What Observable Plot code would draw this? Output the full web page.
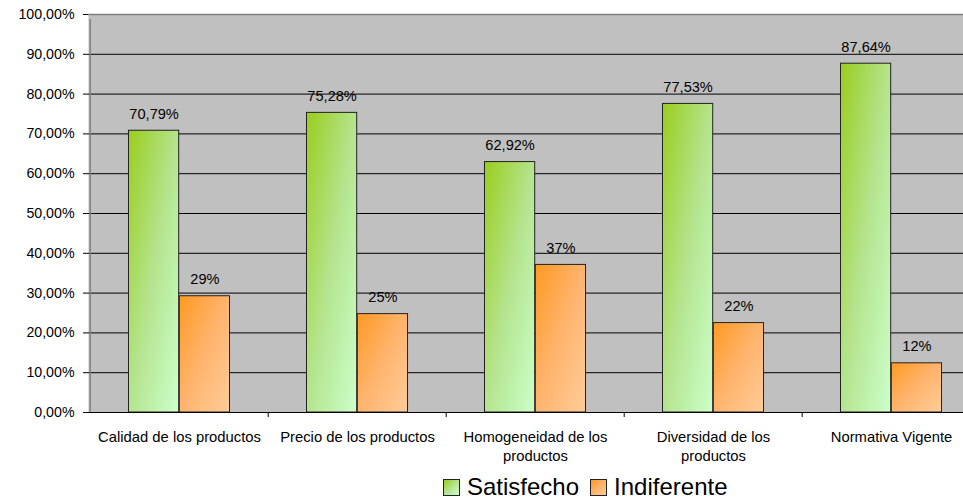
<!DOCTYPE html>
<html>
<head>
<meta charset="utf-8">
<script src="https://cdn.jsdelivr.net/npm/d3@7"></script>
<script src="https://cdn.jsdelivr.net/npm/@observablehq/plot@0.6"></script>
<style>
  html, body { margin: 0; padding: 0; overflow: hidden; background: #fff; }
  body { width: 963px; height: 499px; position: relative; font-family: "Liberation Sans", Arial, sans-serif; }
  #chart { position: absolute; left: 0; top: 0; width: 981px; }
  #chart svg { max-width: none !important; overflow: visible; }
  #legend { position: absolute; left: 443px; top: 475px; display: flex; align-items: center; font-size: 24px; line-height: 24px; color: #000; white-space: nowrap; }
  .sw { width: 17px; height: 17px; box-sizing: border-box; border: 1px solid #222; margin-right: 7px; }
  .lab { margin-right: 11px; }
</style>
</head>
<body>
<div id="chart"></div>
<div id="legend"></div>
<script>
const categories = ["Calidad de los productos", "Precio de los productos", "Homogeneidad de los productos", "Diversidad de los productos", "Normativa Vigente"];
const categoryLabels = ["Calidad de los productos", "Precio de los productos", "Homogeneidad de los\nproductos", "Diversidad de los\nproductos", "Normativa Vigente"];
const series = ["Satisfecho", "Indiferente"];
const satisfecho = [70.79, 75.28, 62.92, 77.53, 87.64];
const indiferente = [29.21, 24.72, 37.08, 22.47, 12.36];
const yTicks = [0, 10, 20, 30, 40, 50, 60, 70, 80, 90, 100];

const dataS = categories.map((c, i) => ({cat: c, v: satisfecho[i]}));
const dataI = categories.map((c, i) => ({cat: c, v: indiferente[i]}));

const width = 981, marginLeft = 88, marginRight = 0;
const step = (width - marginLeft - marginRight) / categories.length;
const outer = step * 0.2155;
const bw = (step - 2 * outer) / 2;

const fmtY = d => d.toFixed(2).replace(".", ",") + "%";
const fmtS = d => d.toFixed(2).replace(".", ",") + "%";
const fmtI = d => Math.round(d) + "%";

const chart = Plot.plot({
  width, height: 470,
  marginLeft, marginRight, marginTop: 14, marginBottom: 58,
  style: {fontFamily: "'Liberation Sans', Arial, sans-serif", fontSize: "14.5px", color: "#000", background: "transparent", maxWidth: "none", overflow: "visible"},
  x: {domain: categories, padding: 0, axis: null, label: null},
  y: {domain: [0, 100], axis: null, label: null},
  marks: [
    Plot.frame({fill: "#c0c0c0", stroke: "none"}),
    Plot.ruleY(yTicks.filter(d => d > 0 && d < 100), {stroke: "#000", strokeWidth: 1}),
    Plot.ruleY([100], {stroke: "#808080", strokeWidth: 1.5}),
    Plot.barY(dataS, {x: "cat", y: "v", fill: "url(#gGreen)", stroke: "#222", strokeWidth: 1, insetLeft: outer, insetRight: outer + bw}),
    Plot.barY(dataI, {x: "cat", y: "v", fill: "url(#gOrange)", stroke: "#222", strokeWidth: 1, insetLeft: outer + bw, insetRight: outer}),
    Plot.ruleY([0], {stroke: "#000", strokeWidth: 1.2}),
    Plot.ruleX(categories.slice(1), {x: d => d, y1: 0, y2: 0, dx: -step / 2, insetBottom: -5, stroke: "#000"}),
    Plot.ruleX([categories[0]], {x: d => d, y1: 0, y2: 100, dx: -step / 2, insetBottom: -5, stroke: "#808080", strokeWidth: 1.5}),
    Plot.axisY({ticks: yTicks, tickFormat: fmtY, tickSize: 5, tickPadding: 9, fontSize: 14.2, stroke: "#000", label: null}),
    Plot.axisX({tickSize: 0, tickPadding: 16, tickFormat: c => categoryLabels[categories.indexOf(c)], lineHeight: 1.284, fontSize: 14.8, label: null}),
    Plot.text(dataS, {x: "cat", y: "v", text: d => fmtS(d.v), dx: -bw / 2, dy: -16.5, fontSize: 14.6, fill: "#000"}),
    Plot.text(dataI, {x: "cat", y: "v", text: d => fmtI(d.v), dx: bw / 2, dy: -16.5, fontSize: 14.6, fill: "#000"})
  ]
});

const svg = d3.select(chart);
const defs = svg.insert("defs", ":first-child");
const gG = defs.append("linearGradient").attr("id", "gGreen").attr("x1", 0).attr("y1", 0).attr("x2", 1).attr("y2", 1);
gG.append("stop").attr("offset", "0%").attr("stop-color", "#9acd1e");
gG.append("stop").attr("offset", "50%").attr("stop-color", "#b5e48e");
gG.append("stop").attr("offset", "100%").attr("stop-color", "#ccffcc");
const gO = defs.append("linearGradient").attr("id", "gOrange").attr("x1", 0).attr("y1", 0).attr("x2", 1).attr("y2", 1);
gO.append("stop").attr("offset", "0%").attr("stop-color", "#ff9922");
gO.append("stop").attr("offset", "50%").attr("stop-color", "#ffb46e");
gO.append("stop").attr("offset", "100%").attr("stop-color", "#ffcc99");
document.getElementById("chart").appendChild(chart);

const legend = document.getElementById("legend");
const swFills = ["linear-gradient(135deg, #9acd1e, #b5e48e, #ccffcc)", "linear-gradient(135deg, #ff9922, #ffb46e, #ffcc99)"];
series.forEach((s, i) => {
  const sw = document.createElement("div");
  sw.className = "sw";
  sw.style.background = swFills[i];
  const lab = document.createElement("span");
  lab.className = "lab";
  lab.textContent = s;
  legend.appendChild(sw);
  legend.appendChild(lab);
});
</script>
</body>
</html>
